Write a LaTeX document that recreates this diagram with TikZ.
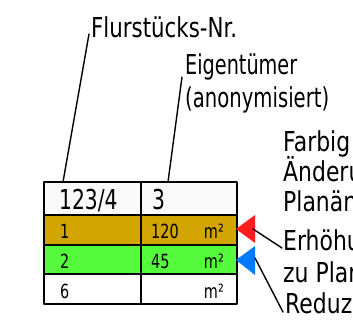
\documentclass[tikz,border=0pt]{standalone}
\usepackage{fontspec}
\usepackage{graphicx}
\setmainfont[FakeStretch=0.74]{DejaVu Sans}
\newfontfamily\randfont[FakeStretch=0.8]{DejaVu Sans}
\newcommand{\breite}[2]{\resizebox{#1}{\height}{#2}}
\definecolor{ocker}{RGB}{210,165,0}
\definecolor{gruen}{RGB}{85,250,60}
\definecolor{rotmark}{RGB}{255,30,30}
\definecolor{blaumark}{RGB}{0,122,255}
\begin{document}
\begin{tikzpicture}[x=1pt, y=-1pt, line join=round, line cap=round, font=\fontsize{27.4}{31}\selectfont,
		txt/.style={anchor=base west, inner sep=0pt},
		rand/.style={txt, font=\randfont\fontsize{27.4}{31}\selectfont},
		klein/.style={inner sep=0pt, font=\fontsize{19.5}{22}\selectfont}]
			\clip (0,0) rectangle (353,320);
			% Tabelle
			\draw[line width=1.4pt, fill=gray!4] (44,182) rectangle (237,215);
			\draw[line width=1.4pt] (44,274) rectangle (237,304);
			\draw[line width=1.4pt] (141,182) -- (141,304);
			\draw[line width=2.6pt, fill=ocker] (44,215) rectangle (141,245) (141,215) rectangle (237,245);
			\draw[line width=2.6pt, fill=gruen] (44,245) rectangle (141,274) (141,245) rectangle (237,274);
			\node[txt] (nr) at (59,210) {123/4};
			\node[txt] (eig) at (152,210) {3};
			\node[klein, anchor=base west] (t1) at (60,239) {1};
			\node[klein, anchor=base west] (f1) at (151,239) {120};
			\node[klein, anchor=base east] (m1) at (224,239) {m²};
			\node[klein, anchor=base west] (t2) at (60,268) {2};
			\node[klein, anchor=base west] (f2) at (151,268) {45};
			\node[klein, anchor=base east] (m2) at (224,268) {m²};
			\node[klein, anchor=base west] (t3) at (60,298) {6};
			\node[klein, anchor=base east] (m3) at (224,298) {m²};
			% Beschriftung
			\node[txt] (flst) at (91,38) {\breite{146pt}{Flurstücks-Nr.}};
			\node[txt] (eigt) at (185,75) {\breite{112pt}{Eigentümer}};
			\node[txt] (anon) at (185,108) {\breite{144pt}{(anonymisiert)}};
			\node[rand] (farb) at (283,152) {Farbig};
			\node[rand] (aend) at (283,182) {Änderung};
			\node[rand] (plan) at (283,212) {Planänderung};
			\node[rand] (erh) at (283,251) {Erhöhung};
			\node[rand] (zupl) at (283,282) {zu Planänderung};
			\node[rand] (red) at (285,313) {Reduzierung};
			\coordinate (nrfuss) at (63,182);
			\coordinate (eigfuss) at (168,182);
			\coordinate (rot) at (253,229);
			\coordinate (blau) at (255,258);
			\draw[line width=1.4pt] ([shift={(-2,-4)}]flst.base west) -- (nrfuss);
			\draw[line width=1.4pt] ([shift={(-3,2)}]eigt.base west) -- (eigfuss);
			% Markierungen
			\fill[rotmark] (236,229) -- (255,215) -- (255,243) -- cycle;
			\fill[blaumark] (236,260) -- (255,246) -- (255,275) -- cycle;
			\draw[line width=1.4pt] (rot) -- ([shift={(-1,-3)}]erh.base west);
			\draw[line width=1.4pt] (blau) -- ([shift={(-2,-1)}]red.base west);
		\end{tikzpicture}
\end{document}
